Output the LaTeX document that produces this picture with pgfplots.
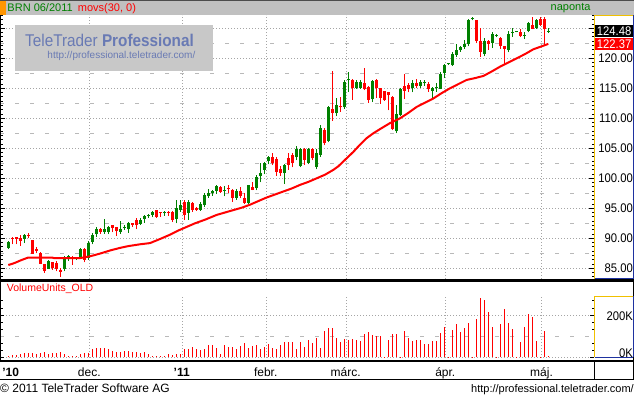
\documentclass[border=0pt]{standalone}
\usepackage{fontspec}
\setmainfont{Liberation Sans}
\newfontfamily\nfont[FakeStretch=0.9]{Liberation Sans}
\usepackage{pgfplots}
\usepackage{pgfplotstable}
\pgfplotsset{compat=1.18}
\definecolor{cgreen}{RGB}{0,128,0}
\definecolor{cred}{RGB}{255,0,0}
\definecolor{cgrid}{RGB}{165,165,165}
\definecolor{cdash}{RGB}{185,185,185}
\definecolor{cyel}{RGB}{240,192,0}
\definecolor{cblue}{RGB}{30,50,160}
\definecolor{cwm}{RGB}{200,200,200}
\definecolor{cwmt}{RGB}{105,122,180}
\definecolor{chead}{RGB}{192,192,192}
\definecolor{corange}{RGB}{255,150,0}
\newcommand\pfont{\nfont\fontsize{12.5bp}{14bp}\selectfont}
\newcommand\dfont{\fontsize{12bp}{14bp}\selectfont}

\pgfplotstableread{
x O H L C
8.3 88.35 89.5 88.2 89.45
12.3 90.05 90.2 89.0 89.95
16.3 90.2 90.25 89.0 89.9
20.3 90.0 90.55 88.8 89.6
24.3 89.95 90.7 89.2 90.55
28.3 90.45 90.9 90.0 90.35
32.3 89.7 89.8 87.4 87.4
36.3 88.3 88.5 87.5 87.9
40.3 87.6 87.8 85.8 85.8
44.3 85.7 85.7 84.3 84.5
48.3 84.9 86.4 84.9 86.3
52.3 86.1 86.1 84.8 85.0
56.3 85.9 86.2 84.5 84.9
60.3 84.8 85.1 83.6 84.4
64.3 84.9 87.0 84.5 86.9
68.3 86.5 87.2 86.3 87.05
72.3 86.7 87.1 85.6 86.6
76.3 86.6 86.9 86.4 86.7
80.3 86.8 88.4 86.6 88.2
84.3 88.2 88.4 86.0 86.4
88.3 86.8 89.5 86.4 89.3
92.3 89.4 90.9 89.0 90.6
96.3 90.7 91.9 90.2 91.5
100.3 91.5 91.7 90.8 91.1
104.3 91.1 93.2 90.8 91.5
108.3 91.1 92.1 90.7 91.9
112.3 92.2 92.3 91.0 91.8
116.3 91.9 91.9 90.4 91.2
120.3 91.1 92.9 90.8 91.5
124.3 91.7 92.2 91.4 91.8
128.3 91.5 92.8 90.9 92.5
132.3 92.4 92.6 91.9 92.3
136.3 93.1 93.4 91.5 92.2
140.3 92.4 93.4 92.2 93.05
144.3 93.2 93.9 92.6 93.7
148.3 93.65 94.0 93.4 93.75
152.3 93.9 94.6 93.5 94.4
156.3 94.7 94.8 93.4 93.6
160.3 94.3 94.4 93.6 94.2
164.3 94.2 94.5 93.8 94.3
168.3 94.35 94.5 93.8 94.25
172.3 94.4 94.6 92.7 93.05
176.3 93.3 96.4 92.5 95.1
180.3 94.8 96.4 94.4 95.5
184.3 96.1 96.4 93.05 93.9
188.3 94.2 96.4 93.1 96.1
192.3 95.9 96.1 94.4 94.8
196.3 95.0 95.2 94.6 94.8
200.3 94.8 96.0 94.6 95.7
204.3 95.6 97.5 95.2 97.2
208.3 97.05 98.2 96.8 97.6
212.3 97.6 98.0 97.1 97.9
216.3 97.9 98.9 97.4 98.7
220.3 98.6 98.7 97.6 97.8
224.3 97.95 98.7 97.0 98.1
228.3 98.25 98.8 97.6 98.15
232.3 98.05 98.2 96.1 96.8
236.3 96.8 98.2 96.4 97.9
240.3 97.9 98.6 96.7 97.05
244.3 96.8 97.5 95.8 95.9
248.3 95.9 98.9 95.8 98.8
252.3 98.6 99.4 98.0 98.05
256.3 98.3 100.5 98.0 100.2
260.3 100.4 102.5 99.3 100.9
264.3 101.4 102.7 100.7 102.5
268.3 102.8 103.7 102.3 103.5
272.3 103.5 104.2 102.2 102.5
276.3 103.2 103.5 100.4 101.1
280.3 101.5 102.0 100.4 100.8
284.3 100.8 102.4 99.05 102.2
288.3 103.3 104.2 101.4 102.2
292.3 103.9 104.2 101.8 102.5
296.3 103.5 105.3 103.0 104.8
300.3 102.0 105.1 101.8 104.9
304.3 104.8 105.0 102.2 103.05
308.3 102.5 105.1 102.3 104.8
312.3 104.8 105.0 103.0 103.3
316.3 101.9 104.9 101.5 104.2
320.3 103.9 108.8 103.6 108.3
324.3 108.0 108.4 105.5 105.8
328.3 106.2 112.0 106.0 111.8
332.3 111.5 117.8 109.55 110.9
336.3 110.8 113.4 110.3 112.2
340.3 112.0 113.6 111.1 111.85
344.3 111.8 116.4 111.55 116.1
348.3 116.3 117.7 114.4 116.45
352.3 116.4 116.6 113.05 115.0
356.3 115.1 116.4 114.9 116.1
360.3 115.05 116.4 114.9 116.05
364.3 115.9 118.4 114.7 114.8
368.3 115.2 115.3 112.6 113.1
372.3 113.2 116.3 112.7 116.2
376.3 116.4 116.6 113.4 115.05
380.3 115.05 115.1 112.4 113.4
384.3 114.5 114.6 112.9 113.0
388.3 114.4 114.4 111.3 113.8
392.3 113.55 113.7 108.0 108.2
396.3 107.8 112.15 107.5 110.75
400.3 110.5 115.0 110.3 114.8
404.3 115.4 117.3 113.2 114.6
408.3 115.6 115.8 114.3 114.8
412.3 115.05 116.3 114.3 115.9
416.3 115.8 116.5 115.0 115.4
420.3 115.4 116.3 115.1 116.05
424.3 115.85 116.3 115.4 115.95
428.3 115.75 116.0 114.4 114.8
432.3 114.55 115.2 113.4 115.05
436.3 115.0 115.9 114.4 115.1
440.3 114.9 117.7 114.8 117.4
444.3 117.6 119.1 116.7 118.9
448.3 119.0 119.2 118.9 119.1
452.3 118.8 121.0 118.7 120.75
456.3 120.6 122.4 120.2 121.4
460.3 121.3 122.1 121.1 121.9
464.3 121.9 123.1 121.6 122.4
468.3 122.3 126.5 122.0 126.3
472.3 126.5 126.9 126.3 126.6
476.3 126.3 126.4 122.5 122.9
480.3 122.9 125.0 120.2 121.05
484.3 120.75 123.4 120.3 122.9
488.3 122.9 123.0 121.4 122.4
492.3 122.6 124.4 121.7 124.0
496.3 123.7 124.0 123.5 123.9
500.3 123.4 123.5 121.6 122.0
504.3 122.0 122.1 119.0 121.6
508.3 121.3 124.5 121.0 124.1
512.3 124.25 125.05 123.55 124.35
516.3 124.45 124.6 124.3 124.55
520.3 124.3 124.8 123.55 123.7
524.3 123.75 124.4 123.2 123.85
528.3 124.5 126.0 124.3 125.8
532.3 125.6 126.9 124.8 124.9
536.3 125.05 126.5 124.9 126.3
540.3 126.5 126.9 125.4 125.6
544.3 126.5 126.9 122.2 124.8
548.3 124.4 125.0 124.2 124.48
}\candles

\pgfplotstableread{
x V
8.3 6
12.3 11
16.3 11
20.3 17
24.3 20
28.3 20
32.3 20
36.3 17
40.3 22
44.3 27
48.3 17
52.3 20
56.3 22
60.3 27
64.3 16
68.3 8
72.3 8
76.3 5
80.3 16
84.3 19
88.3 20
92.3 41
96.3 44
100.3 44
104.3 44
108.3 38
112.3 28
116.3 25
120.3 27
124.3 31
128.3 30
132.3 27
136.3 25
140.3 22
144.3 27
148.3 17
152.3 8
156.3 8
160.3 6
164.3 8
168.3 17
172.3 11
176.3 17
180.3 17
184.3 39
188.3 39
192.3 49
196.3 38
200.3 33
204.3 41
208.3 58
212.3 58
216.3 46
220.3 17
224.3 58
228.3 50
232.3 50
236.3 41
240.3 52
244.3 68
248.3 44
252.3 52
256.3 58
260.3 38
264.3 50
268.3 63
272.3 43
276.3 39
280.3 57
284.3 72
288.3 72
292.3 71
296.3 39
300.3 74
304.3 50
308.3 82
312.3 69
316.3 90
320.3 44
324.3 124
328.3 140
332.3 140
336.3 93
340.3 71
344.3 85
348.3 82
352.3 87
356.3 80
360.3 79
364.3 109
368.3 118
372.3 104
376.3 101
380.3 99
384.3 2
388.3 80
392.3 112
396.3 109
400.3 2
404.3 124
408.3 90
412.3 79
416.3 82
420.3 82
424.3 63
428.3 63
432.3 77
436.3 77
440.3 117
444.3 142
448.3 2
452.3 129
456.3 157
460.3 120
464.3 139
468.3 164
472.3 2
476.3 181
480.3 282
484.3 271
488.3 214
492.3 145
496.3 2
500.3 157
504.3 228
508.3 164
512.3 132
516.3 3
520.3 74
524.3 143
528.3 206
532.3 191
536.3 79
540.3 2
544.3 124
548.3 6
}\volume

\begin{document}
\begin{tikzpicture}
\path[use as bounding box] (0bp,0bp) rectangle (634bp,398bp);

% ---------------- main price panel ----------------
\begin{axis}[
  at={(0bp,119bp)}, anchor=south west, scale only axis,
  width=594bp, height=264bp,
  xmin=0, xmax=594, ymin=83.217, ymax=127.217,
  axis line style={draw=none},
  clip mode=individual,
  xtick={89.3,181.7,265.7,345.7,445.3,541.5}, xticklabels={},
  xmajorgrids, major x grid style={cgrid, dash pattern=on 1bp off 2bp},
  xtick style={draw=none},
  ytick={85,90,...,125},
  yticklabels={85.00,90.00,95.00,100.00,105.00,110.00,115.00,120.00,{}},
  ymajorgrids, major y grid style={cgrid, dash pattern=on 1bp off 2bp},
  minor ytick={87.5,92.5,...,127.5}, yminorgrids,
  minor y grid style={cdash, dash pattern=on 4bp off 11bp},
  minor tick length=0pt, major tick length=5bp,
  ytick style={black, line width=0.8bp},
  extra y ticks={83.5714,84.2857,...,127}, extra y tick labels={},
  extra y tick style={major tick length=2.5bp, grid=none},
  yticklabel pos=right,
  yticklabel style={font=\pfont, anchor=east, xshift=39bp, inner sep=0pt},
]
% wicks
\addplot[draw=none, mark=none, forget plot,
  x filter/.expression={\thisrow{C}>=\thisrow{O} ? x : nan},
  error bars/.cd, y dir=plus, y explicit, error mark=none,
  error bar style={draw=cgreen, line width=1bp}]
  table[x=x, y=L, y error plus expr={\thisrow{H}-\thisrow{L}}] {\candles};
\addplot[draw=none, mark=none, forget plot,
  x filter/.expression={\thisrow{C}<\thisrow{O} ? x : nan},
  error bars/.cd, y dir=plus, y explicit, error mark=none,
  error bar style={draw=cred, line width=1bp}]
  table[x=x, y=L, y error plus expr={\thisrow{H}-\thisrow{L}}] {\candles};
% bodies
\addplot[draw=none, mark=none, forget plot,
  x filter/.expression={\thisrow{C}>=\thisrow{O} ? x : nan},
  error bars/.cd, y dir=plus, y explicit, error mark=none,
  error bar style={draw=cgreen, line width=3bp}]
  table[x=x, y=O, y error plus expr={max(\thisrow{C}-\thisrow{O},0.17)}] {\candles};
\addplot[draw=none, mark=none, forget plot,
  x filter/.expression={\thisrow{C}<\thisrow{O} ? x : nan},
  error bars/.cd, y dir=plus, y explicit, error mark=none,
  error bar style={draw=cred, line width=3bp}]
  table[x=x, y=C, y error plus expr={max(\thisrow{O}-\thisrow{C},0.17)}] {\candles};
% moving average
\addplot[cred, line width=2bp, line join=round, mark=none] coordinates {
(8.3,85.55) (12.3,85.75) (16.3,86.0) (20.3,86.3) (24.3,86.55) (28.3,86.8)
(40,86.8) (52,86.8) (54,86.7) (70,86.7) (80,86.7) (90,87.0) (100,87.45)
(111.7,88.05) (120,88.4) (128.3,88.7) (140,89.0) (150,89.2) (161.7,90.0)
(170,90.6) (178.3,91.3) (186,91.85) (195,92.5) (205,93.1) (216.7,93.9)
(225,94.3) (233.3,94.7) (241.7,95.1) (250,95.6) (258.3,96.2) (266.7,96.8)
(275,97.3) (283.3,97.8) (291.7,98.3) (300,98.9) (308.3,99.4) (316.7,100.0)
(325,100.6) (333.3,101.4) (338.3,102.0) (343.3,102.8) (348.3,103.6)
(353.3,104.4) (360,105.6) (366.7,106.7) (373.3,107.5) (380,108.2)
(385,108.7) (390,109.2) (400,110.0) (408.3,110.9) (416.7,111.9)
(425,112.6) (433.3,113.3) (441.7,114.2) (450,115.0) (458.3,115.7)
(466.7,116.4) (475,116.7) (483.3,117.05) (491.7,117.8) (500,118.6)
(508.3,119.3) (516.7,120.0) (525,120.7) (533.3,121.5) (541.7,122.0)
(548.3,122.4)};
\node[fill=black, text=white, font=\pfont, anchor=east, inner xsep=1.5bp, inner ysep=1.5bp] at (axis cs:633,124.48) {124.48};
\node[fill=cred, text=white, font=\pfont, anchor=east, inner xsep=1.5bp, inner ysep=1.5bp] at (axis cs:633,122.37) {122.37};
\end{axis}

% ---------------- volume panel ----------------
\begin{axis}[
  at={(0bp,37bp)}, anchor=south west, scale only axis,
  width=594bp, height=65bp,
  xmin=0, xmax=594, ymin=-17.5, ymax=289.8,
  axis line style={draw=none},
  clip mode=individual,
  xtick={89.3,181.7,265.7,345.7,445.3,541.5},
  xticklabels={dec.,{\bfseries ’11},febr.,márc.,ápr.,máj.},
  extra x ticks={10.7}, extra x tick labels={{\bfseries ’10}},
  extra x tick style={grid=none, major tick length=0pt},
  xmajorgrids, major x grid style={cgrid, dash pattern=on 1bp off 2bp},
  xtick style={draw=none},
  xticklabel style={font=\dfont, anchor=base, yshift=-15bp},
  ytick={0,200}, yticklabels={},
  ymajorgrids, major y grid style={cgrid, dash pattern=on 1bp off 2bp},
  minor ytick={100}, yminorgrids,
  minor y grid style={cdash, dash pattern=on 4bp off 11bp},
  minor tick length=0pt, major tick length=4bp,
  ytick style={black, line width=0.8bp},
  extra y ticks={33.33,66.67,133.33,166.67,233.33,266.67}, extra y tick labels={},
  extra y tick style={major tick length=2.5bp, grid=none},
]
\addplot[ycomb, cred, line width=1bp, mark=none] table[x=x, y=V] {\volume};
\end{axis}

% ---------------- frame and decorations ----------------
\begin{scope}[x=1bp,y=1bp]
% header bar
\fill[chead] (0,383) rectangle (634,398);
\fill[corange] (0,383) rectangle (6,397);
\draw[black!70, line width=1bp] (0,397.5) -- (634,397.5);
\node[anchor=base west, inner sep=0, text=cgreen, font=\fontsize{11bp}{13bp}\selectfont] at (7.3,386.5) {BRN 06/2011};
\node[anchor=base west, inner sep=0, text=cred, font=\fontsize{11bp}{13bp}\selectfont] at (77.7,386.5) {movs(30, 0)};
\node[anchor=base east, inner sep=0, text=cgreen, font=\fontsize{11bp}{13bp}\selectfont] at (590.7,387.5) {naponta};

% main panel borders
\draw[black, line width=1bp] (0.5,119) -- (0.5,383);
\draw[cyel, line width=1bp] (594.5,119) -- (594.5,382.5) -- (634,382.5);
\draw[cblue, line width=1bp] (633.5,382.5) -- (633.5,119.5) -- (594.5,119.5);
\fill[black] (0,116) rectangle (634,118.8);

% volume panel borders
\draw[black, line width=1bp] (0.5,37) -- (0.5,116);
\draw[cyel, line width=1bp] (594.5,40.5) -- (594.5,101.5) -- (634,101.5);
\draw[cblue, line width=1bp] (633.5,101.5) -- (633.5,40.5) -- (594.5,40.5);
\draw[black, line width=1bp] (633.5,116) -- (633.5,101.5);
\draw[black, line width=1bp] (633.5,40.5) -- (633.5,18);
\fill[black] (0,35.5) rectangle (634,37.5);
\draw[black, line width=1bp] (0,18) -- (634,18);
\draw[black, line width=1bp] (594.5,18) -- (594.5,36);

\node[anchor=base west, inner sep=0, text=cred, font=\fontsize{10.5bp}{12bp}\selectfont] at (6.7,106.5) {VolumeUnits\_OLD};
\node[anchor=east, inner sep=0, font=\pfont] at (633,82) {200K};
\node[anchor=east, inner sep=0, font=\pfont] at (633,44.8) {0K};

% watermark
\fill[cwm] (15,327.3) rectangle (213,373);
\node[anchor=base west, inner sep=0, text=cwmt, font=\nfont\fontsize{17bp}{19bp}\selectfont] at (25,352) {TeleTrader \textbf{Professional}};
\node[anchor=base west, inner sep=0, text=cwmt, font=\fontsize{10bp}{12bp}\selectfont] at (47.3,339.5) {http://professional.teletrader.com/};

% footer
\node[anchor=base west, inner sep=0, font=\fontsize{12bp}{14bp}\selectfont] at (0,5.3) {© 2011 TeleTrader Software AG};
\node[anchor=base east, inner sep=0, font=\fontsize{11bp}{13bp}\selectfont] at (634,5.3) {http://professional.teletrader.com/};
\end{scope}
\end{tikzpicture}
\end{document}
